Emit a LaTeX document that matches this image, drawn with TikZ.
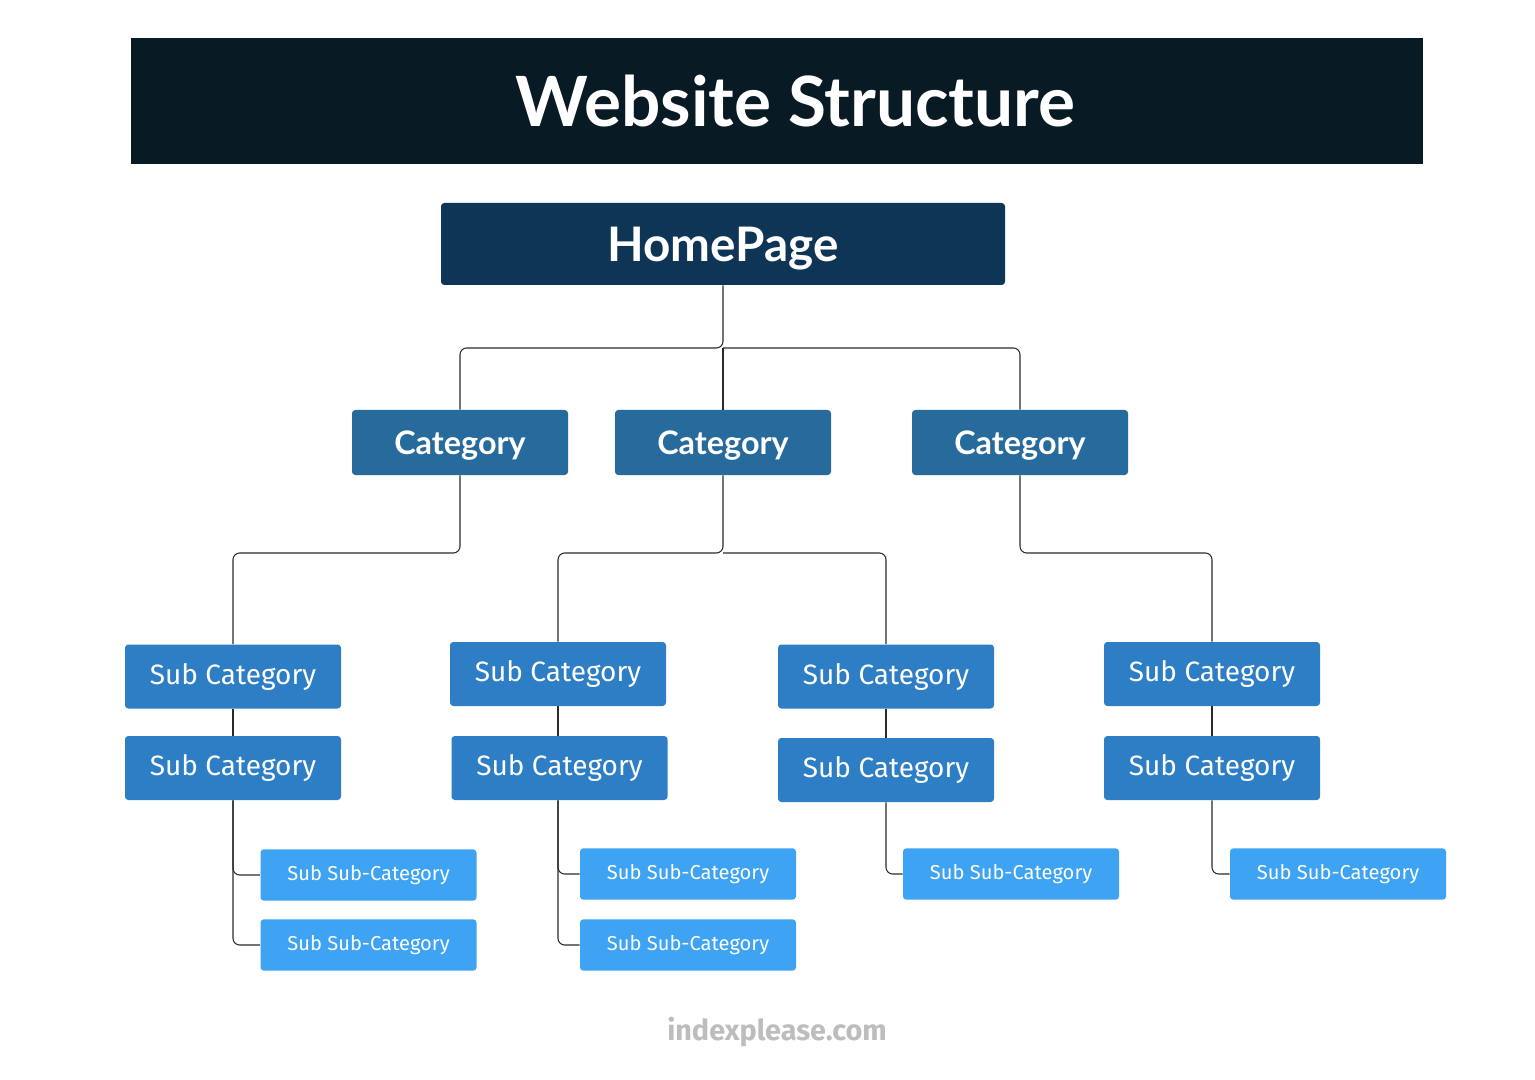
\documentclass[tikz,border=0pt]{standalone}
\usepackage{fontspec}
\setmainfont{Lato}
\newfontfamily\subfont{Fira Sans}
\definecolor{titlebg}{HTML}{081A24}
\definecolor{homebg}{HTML}{0F3556}
\definecolor{catbg}{HTML}{276A9C}
\definecolor{subbg}{HTML}{2D7EC5}
\definecolor{ssbg}{HTML}{3EA3F2}
\definecolor{wm}{HTML}{BDBDBD}
\definecolor{conncol}{HTML}{2A2A2A}
\tikzset{
  box/.style={rectangle, rounded corners=2.5pt, text=white, inner sep=0pt, align=center},
  titlebox/.style={box, rounded corners=0pt, fill=titlebg, minimum width=969pt, minimum height=94.5pt},
  homebox/.style={box, fill=homebg, minimum width=423pt, minimum height=61.5pt, font=\fontsize{35.7}{40}\selectfont\bfseries, text height=25.7pt, text depth=0pt},
  catbox/.style={box, fill=catbg, minimum width=162pt, minimum height=48.75pt, font=\fontsize{24.3}{28}\selectfont\bfseries, text height=17.5pt, text depth=0pt},
  subbox/.style={box, fill=subbg, minimum width=162pt, minimum height=48pt, font=\subfont\fontsize{21}{24}\selectfont},
  ssbox/.style={box, fill=ssbg, minimum width=162pt, minimum height=38.5pt, font=\subfont\fontsize{15.1}{18}\selectfont},
  conn/.style={draw=conncol, line width=0.8pt, rounded corners=5pt},
}
\begin{document}
\begin{tikzpicture}[x=0.75pt,y=-0.75pt]
\useasboundingbox (0,0) rectangle (1535,1080);
\fill[white] (0,0) rectangle (1535,1080);
% title
\node[titlebox] (title) at (777,101) {};
\node[text=white, font=\fontsize{52}{60}\selectfont\bfseries, inner sep=0pt] (titletext) at (795.5,101) {Website Structure};
% homepage
\node[homebox] (home) at (723,244) {HomePage};
% categories
\node[catbox] (c1) at (460,442.5) {Category};
\node[catbox] (c2) at (723,442.5) {Category};
\node[catbox] (c3) at (1020,442.5) {Category};
% sub categories
\node[subbox] (s11) at (233,676.5) {Sub Category};
\node[subbox] (s12) at (233,768) {Sub Category};
\node[subbox] (s21) at (558,674) {Sub Category};
\node[subbox] (s22) at (559.5,768) {Sub Category};
\node[subbox] (s31) at (886,676.5) {Sub Category};
\node[subbox] (s32) at (886,770) {Sub Category};
\node[subbox] (s41) at (1212,674) {Sub Category};
\node[subbox] (s42) at (1212,768) {Sub Category};
% sub sub categories
\node[ssbox] (t11) at (368.5,875) {Sub Sub-Category};
\node[ssbox] (t12) at (368.5,945) {Sub Sub-Category};
\node[ssbox] (t21) at (688,874) {Sub Sub-Category};
\node[ssbox] (t22) at (688,945) {Sub Sub-Category};
\node[ssbox] (t31) at (1011,874) {Sub Sub-Category};
\node[ssbox] (t41) at (1338,874) {Sub Sub-Category};
% watermark
\node[font=\subfont\fontsize{21.6}{24}\selectfont\bfseries, text=wm] (wmark) at (777,1032) {indexplease.com};
% connectors: homepage to categories
\coordinate (hj) at (723,348);
\draw[conn] (home.south) -- (hj) -| (c1.north);
\draw[conn] (hj) -| (c3.north);
\draw[conn] (hj) -- (c2.north);
% categories to sub categories
\coordinate (j1) at (460,553);
\coordinate (j2) at (723,553);
\coordinate (j3) at (1020,553);
\draw[conn] (c1.south) -- (j1) -| (s11.north);
\draw[conn] (c2.south) -- (j2) -| (s21.north);
\draw[conn] (j2) -| (s31.north);
\draw[conn] (c3.south) -- (j3) -| (s41.north);
% sub category chains
\draw[conn] (s11.south) -- (s12.north);
\draw[conn] (s21.south) -- (s21.south |- s22.north);
\draw[conn] (s31.south) -- (s32.north);
\draw[conn] (s41.south) -- (s42.north);
% sub to sub sub
\draw[conn] (s12.south) |- (t11.west);
\draw[conn] (s12.south) |- (t12.west);
\draw[conn] (s22.south -| s21.south) |- (t21.west);
\draw[conn] (s22.south -| s21.south) |- (t22.west);
\draw[conn] (s32.south) |- (t31.west);
\draw[conn] (s42.south) |- (t41.west);
\end{tikzpicture}
\end{document}
